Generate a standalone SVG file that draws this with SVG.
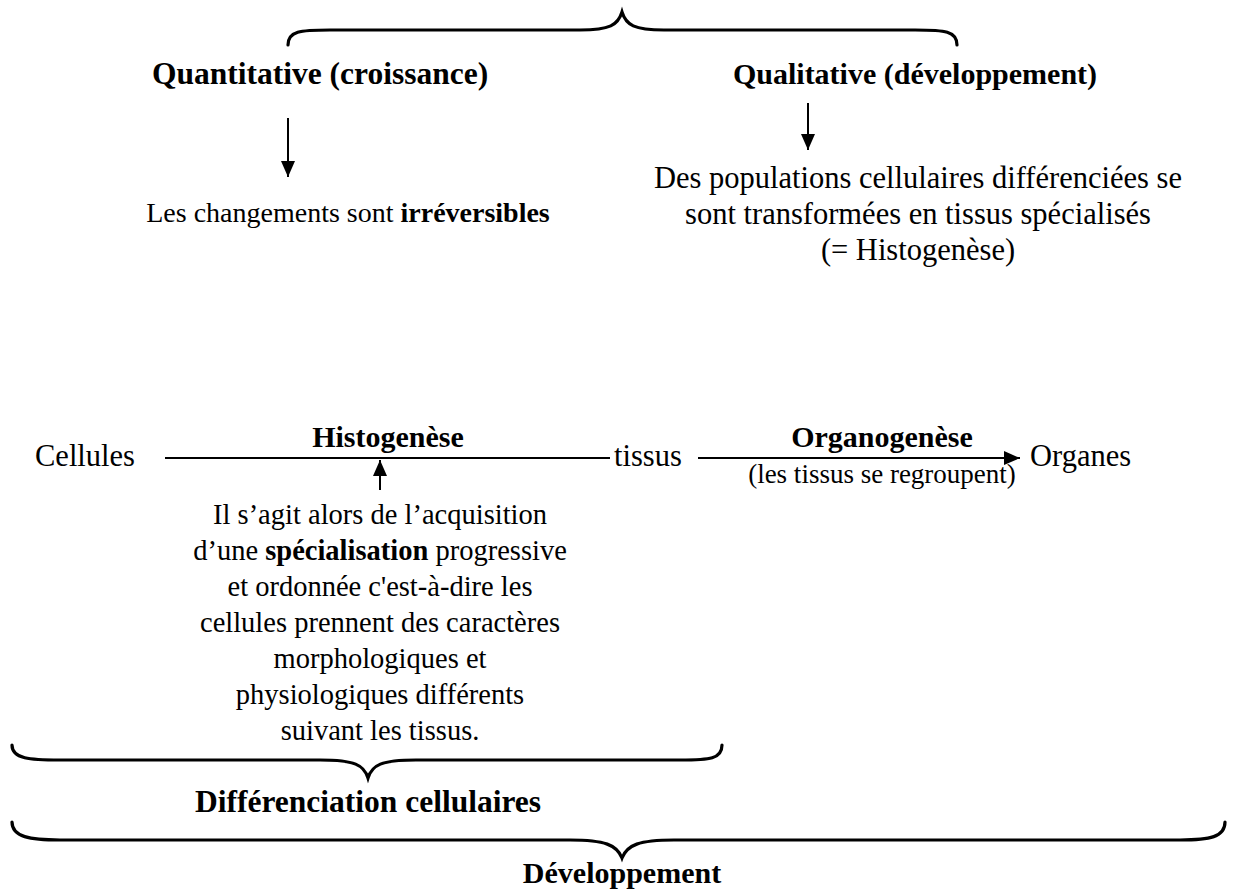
<svg xmlns="http://www.w3.org/2000/svg" width="1236" height="892" viewBox="0 0 1236 892">
<style>
text{font-family:"Liberation Serif","Times New Roman",Tinos,"Nimbus Roman","DejaVu Serif",serif;fill:#000}
.r{font-size:28.5px;font-weight:normal}
.rb{font-size:30.5px;font-weight:normal}
.b{font-size:30px;font-weight:bold}
.h{font-size:31.5px;font-weight:bold}
.c{text-anchor:middle}
.brace{fill:none;stroke:#000;stroke-width:3.2;stroke-linecap:round}
.ln{stroke:#000;stroke-width:2}
</style>
<defs>
<marker id="ah" markerWidth="16" markerHeight="14" refX="16" refY="7" orient="auto" markerUnits="userSpaceOnUse" viewBox="0 0 16 14">
<path d="M0,0 L16,7 L0,14 z" fill="#000"/>
</marker>
</defs>
<rect width="1236" height="892" fill="#fff"/>
<g id="brace-top"><path class="brace" d="M288 45 C288 31 300 30 330 30 L580 30 C610 30 618 25 622 12 C626 25 634 30 664 30 L915 30 C945 30 957 31 957 45"/></g>
<g id="quantitative"><text class="h c" x="320" y="84">Quantitative (croissance)</text></g>
<g id="qualitative"><text class="b c" x="915" y="84">Qualitative (développement)</text></g>
<g id="irreversibles"><text class="c" font-size="28" x="348" y="222">Les changements sont <tspan font-weight="bold">irréversibles</tspan></text></g>
<g id="histogenese-def"><text class="rb c" x="918" y="188">Des populations cellulaires différenciées se</text>
<text class="rb c" x="918" y="224">sont transformées en tissus spécialisés</text>
<text class="rb c" x="918" y="260">(= Histogenèse)</text></g>
<g id="cellules"><text class="rb" x="35" y="466">Cellules</text></g>
<g id="histogenese"><text class="b c" x="388" y="447">Histogenèse</text></g>
<g id="tissus"><text class="rb" x="614" y="466">tissus</text></g>
<g id="organogenese"><text class="b c" x="882" y="447">Organogenèse</text>
<text class="c" font-size="27" x="882" y="483">(les tissus se regroupent)</text></g>
<g id="organes"><text class="rb" x="1030" y="466">Organes</text></g>
<g id="specialisation"><text class="r c" x="380" y="524">Il s’agit alors de l’acquisition</text>
<text class="r c" x="380" y="560">d’une <tspan font-weight="bold">spécialisation</tspan> progressive</text>
<text class="r c" x="380" y="596">et ordonnée c'est-à-dire les</text>
<text class="r c" x="380" y="632">cellules prennent des caractères</text>
<text class="r c" x="380" y="668">morphologiques et</text>
<text class="r c" x="380" y="704">physiologiques différents</text>
<text class="r c" x="380" y="740">suivant les tissus.</text></g>
<g id="brace-diff"><path class="brace" d="M12 745 C12 759 30 760 60 760 L320 760 C355 760 364 765 368 778 C372 765 381 760 416 760 L680 760 C710 760 722 759 722 745"/></g>
<g id="differenciation"><text class="h c" x="368" y="812">Différenciation cellulaires</text></g>
<g id="brace-dev"><path class="brace" d="M12 822 C12 837 30 840 60 840 L570 840 C605 840 617 845 622 858 C627 845 639 840 674 840 L1180 840 C1210 840 1225 837 1225 822"/></g>
<g id="developpement"><text class="b c" x="622" y="883">Développement</text></g>
<g id="connectors">
<line class="ln" x1="288" y1="118" x2="288" y2="177" marker-end="url(#ah)"/>
<line class="ln" x1="808" y1="103" x2="808" y2="150" marker-end="url(#ah)"/>
<line class="ln" x1="165" y1="458" x2="610" y2="458"/>
<line class="ln" x1="380" y1="490" x2="380" y2="460" marker-end="url(#ah)"/>
<line class="ln" x1="698" y1="458" x2="1020" y2="458" marker-end="url(#ah)"/>
</g>
</svg>
